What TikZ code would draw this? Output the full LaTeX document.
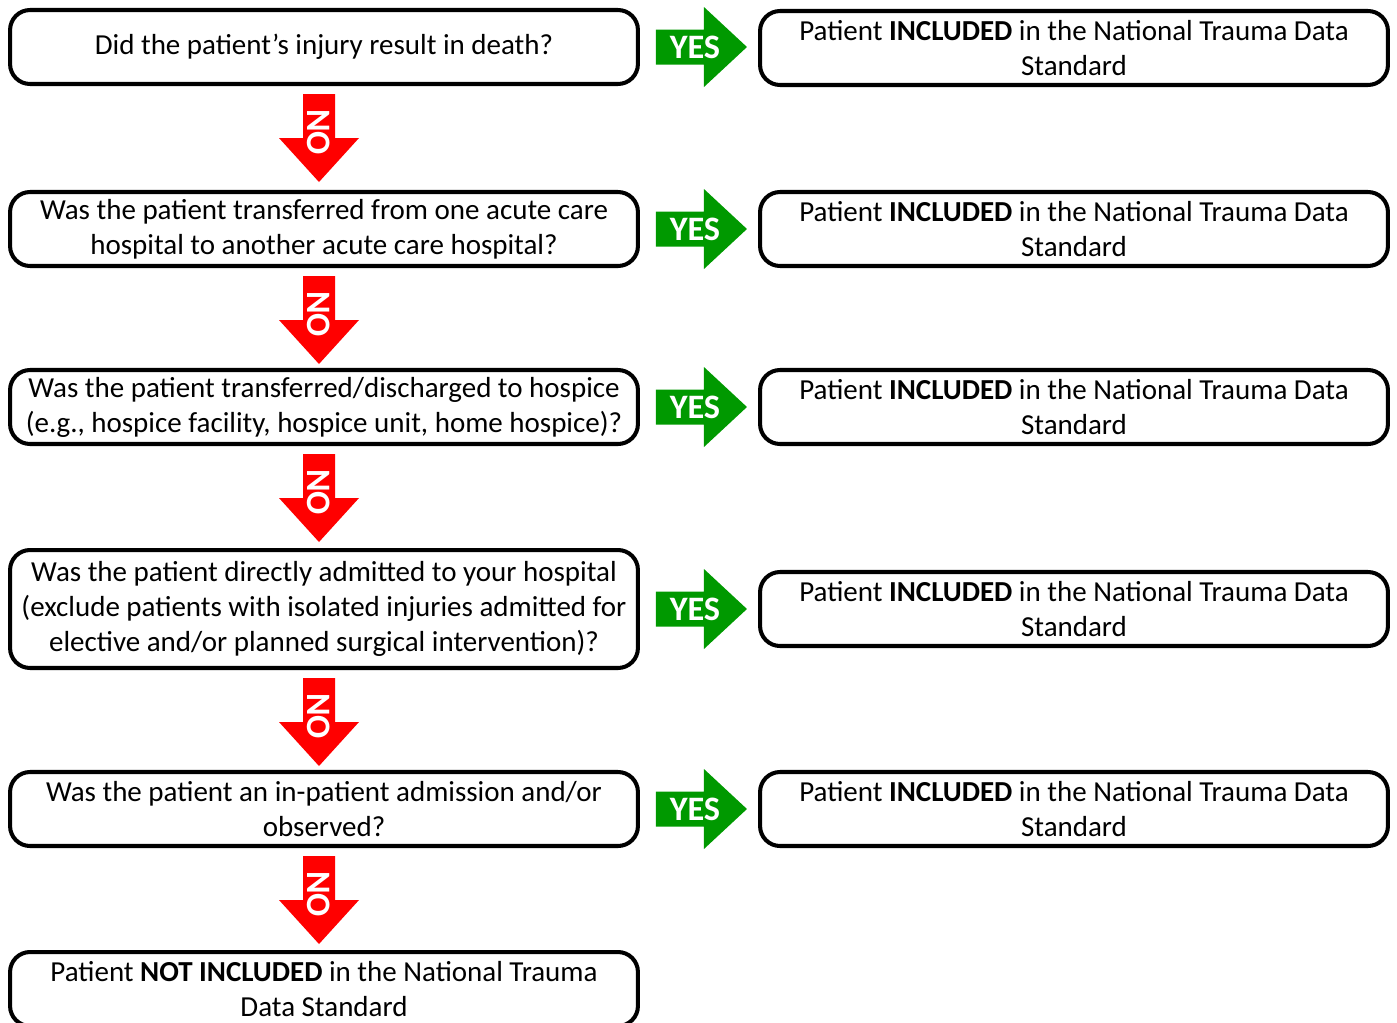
\documentclass[tikz,border=0pt]{standalone}
\usepackage{fontspec}
\setmainfont{Carlito}
\usepackage{tikz}
\usetikzlibrary{positioning}
\usepackage{xcolor}
\definecolor{yesgreen}{RGB}{0,153,0}
\definecolor{nored}{RGB}{255,0,0}
\tikzstyle{question} = [rectangle, rounded corners=0.4cm, draw=black, line width=2.3pt, minimum width=12.56cm, minimum height=1.48cm, inner sep=0pt, align=center, font=\fontsize{16.5}{20}\selectfont]
\tikzstyle{result} = [question]
\tikzstyle{yestext} = [text=white, font=\fontsize{19.5}{20}\selectfont\bfseries]
\tikzstyle{notext} = [yestext, rotate=-90]

\begin{document}
\begin{tikzpicture}[x=0.02cm, y=-0.02cm]
\useasboundingbox (0,0) rectangle (1397,1022);
% Questions
\node[question] (q1) at (324,47) {Did the patient’s injury result in death?};
\node[question] (q2) at (324,229) {Was the patient transferred from one acute care\\hospital to another acute care hospital?};
\node[question] (q3) at (324,407) {Was the patient transferred/discharged to hospice\\(e.g., hospice facility, hospice unit, home hospice)?};
\node[question, minimum height=2.36cm] (q4) at (324,609) {Was the patient directly admitted to your hospital\\(exclude patients with isolated injuries admitted for\\elective and/or planned surgical intervention)?};
\node[question] (q5) at (324,809) {Was the patient an in-patient admission and/or\\observed?};
\node[question] (q6) at (324,989) {Patient \textbf{NOT INCLUDED} in the National Trauma\\Data Standard};

% Results
\node[result] (r1) at (1074,48) {Patient \textbf{INCLUDED} in the National Trauma Data\\Standard};
\node[result] (r2) at (1074,229) {Patient \textbf{INCLUDED} in the National Trauma Data\\Standard};
\node[result] (r3) at (1074,407) {Patient \textbf{INCLUDED} in the National Trauma Data\\Standard};
\node[result] (r4) at (1074,609) {Patient \textbf{INCLUDED} in the National Trauma Data\\Standard};
\node[result] (r5) at (1074,809) {Patient \textbf{INCLUDED} in the National Trauma Data\\Standard};

% YES arrows
\foreach \i in {1,...,5} {
  \fill[yesgreen] ([xshift=0.32cm]q\i.east) ++(0,-17.5) -- ++(48,0) -- ++(0,-22.5) -- ++(43,40) -- ++(-43,40) -- ++(0,-22.5) -- ++(-48,0) -- cycle;
  \node[yestext] (yes\i) at ([xshift=1.1cm]q\i.east) {YES};
}

% NO arrows
\foreach \i in {1,...,5} {
  \fill[nored] ([xshift=-0.1cm,yshift=-0.16cm]q\i.south) ++(-16,0) -- ++(32,0) -- ++(0,44) -- ++(24,0) -- ++(-40,44) -- ++(-40,-44) -- ++(24,0) -- cycle;
  \node[notext] (no\i) at ([xshift=-0.1cm,yshift=-0.92cm]q\i.south) {NO};
}
\end{tikzpicture}
\end{document}
